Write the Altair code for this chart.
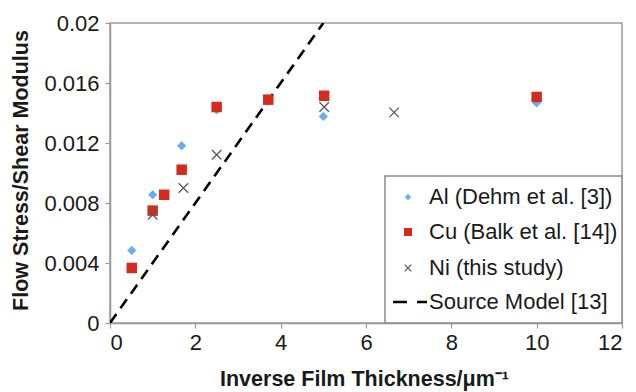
import altair as alt
import pandas as pd

# ---- data ----
al_x = [0.51, 1.0, 1.68, 2.5, 3.71, 5.0, 10.0]
al_y = [0.00484, 0.00855, 0.01182, 0.0142, 0.0148, 0.01377, 0.01467]

cu_x = [0.51, 1.0, 1.27, 1.68, 2.5, 3.71, 5.02, 10.0]
cu_y = [0.00367, 0.00749, 0.00855, 0.01022, 0.0144, 0.01489, 0.01515, 0.01507]

ni_x = [1.0, 1.72, 2.5, 5.02, 6.66]
ni_y = [0.00722, 0.0090, 0.01122, 0.0144, 0.01404]

model_x = [0.0, 5.0]
model_y = [0.0, 0.02]

legend_labels = ["Al (Dehm et al. [3])", "Cu (Balk et al. [14])",
                 "Ni (this study)", "Source Model [13]"]

x_ticks = [0, 2, 4, 6, 8, 10, 12]
y_ticks = [0, 0.004, 0.008, 0.012, 0.016, 0.02]

W, H = 512, 300
FONT = "Liberation Sans"
BLUE = "#6aacf2"
RED = "#d62b1c"
GRAY = "#5a5a5a"
XPATH = "M-1,-1L1,1M-1,1L1,-1"

al = pd.DataFrame({"x": al_x, "y": al_y})
cu = pd.DataFrame({"x": cu_x, "y": cu_y})
ni = pd.DataFrame({"x": ni_x, "y": ni_y})
model = pd.DataFrame({"x": model_x, "y": model_y})

xs = alt.Scale(domain=[0, 12], nice=False, zero=False)
ys = alt.Scale(domain=[0, 0.02], nice=False, zero=False)

xax = alt.Axis(values=x_ticks, title="Inverse Film Thickness/\u03bcm\u207b\u00b9",
               grid=False, tickSize=5, labelPadding=4,
               titleX=254, titleY=56, titleBaseline="middle", titleAlign="center")
yax = alt.Axis(values=y_ticks, title="Flow Stress/Shear Modulus",
               grid=False, tickSize=5, labelPadding=6,
               labelExpr="format(datum.value, '~g')",
               titleX=-89, titleY=147, titleAngle=-90,
               titleBaseline="middle", titleAlign="center")

base_x = alt.X("x:Q", scale=xs, axis=xax)
base_y = alt.Y("y:Q", scale=ys, axis=yax)

line = alt.Chart(model).mark_line(
    color="black", strokeWidth=2.6, strokeDash=[11, 7], clip=True
).encode(x=base_x, y=base_y)

pts_al = alt.Chart(al).mark_point(
    shape="diamond", filled=True, color=BLUE, size=85, opacity=1
).encode(x=base_x, y=base_y)

pts_cu = alt.Chart(cu).mark_point(
    shape="square", filled=True, color=RED, size=110, opacity=1
).encode(x=base_x, y=base_y)

pts_ni = alt.Chart(ni).mark_point(
    shape=XPATH, filled=False, color=GRAY, size=90, strokeWidth=1.3, opacity=1
).encode(x=base_x, y=base_y)

# ---- legend box (pixel positions inside the plot area) ----
leg_box = alt.Chart(pd.DataFrame({"a": [0]})).mark_rect(
    fill="white", stroke="#8a8a8a", strokeWidth=1.5
).encode(x=alt.value(275), x2=alt.value(W), y=alt.value(153), y2=alt.value(H))

leg_rows = [174, 209, 245, 279]
leg_text = alt.Chart(pd.DataFrame({"label": legend_labels, "py": leg_rows})).mark_text(
    align="left", baseline="middle", font=FONT, fontSize=22, color="#1a1a1a"
).encode(x=alt.value(319), y=alt.Y("py:Q", scale=None), text="label:N")

leg_al = alt.Chart(pd.DataFrame({"py": [leg_rows[0]]})).mark_point(
    shape="diamond", filled=True, color=BLUE, size=45, opacity=1
).encode(x=alt.value(298), y=alt.Y("py:Q", scale=None))
leg_cu = alt.Chart(pd.DataFrame({"py": [leg_rows[1]]})).mark_point(
    shape="square", filled=True, color=RED, size=64, opacity=1
).encode(x=alt.value(298), y=alt.Y("py:Q", scale=None))
leg_ni = alt.Chart(pd.DataFrame({"py": [leg_rows[2]]})).mark_point(
    shape=XPATH, filled=False, color=GRAY, size=45, strokeWidth=1.2, opacity=1
).encode(x=alt.value(298), y=alt.Y("py:Q", scale=None))
leg_line = alt.Chart(pd.DataFrame({"a": [0]})).mark_rule(
    color="black", strokeWidth=2.6, strokeDash=[14, 10]
).encode(x=alt.value(283), x2=alt.value(317), y=alt.value(leg_rows[3]))

chart = alt.layer(
    line, pts_al, pts_cu, pts_ni,
    leg_box, leg_text, leg_al, leg_cu, leg_ni, leg_line
).properties(
    width=W, height=H,
    autosize=alt.AutoSizeParams(type="none"),
    padding={"left": 110, "top": 23, "right": 14, "bottom": 69},
    background="white",
).configure_view(
    stroke="#9a9a9a", strokeWidth=1.5
).configure_axis(
    domainColor="#9a9a9a", domainWidth=1.5,
    tickColor="#9a9a9a", tickWidth=1.2,
    labelFont=FONT, labelFontSize=22, labelColor="#1a1a1a",
    titleFont=FONT, titleFontSize=21.5, titleFontWeight="bold", titleColor="#1a1a1a",
)

chart.save("out.html", embed_options={"renderer": "svg", "actions": False})
